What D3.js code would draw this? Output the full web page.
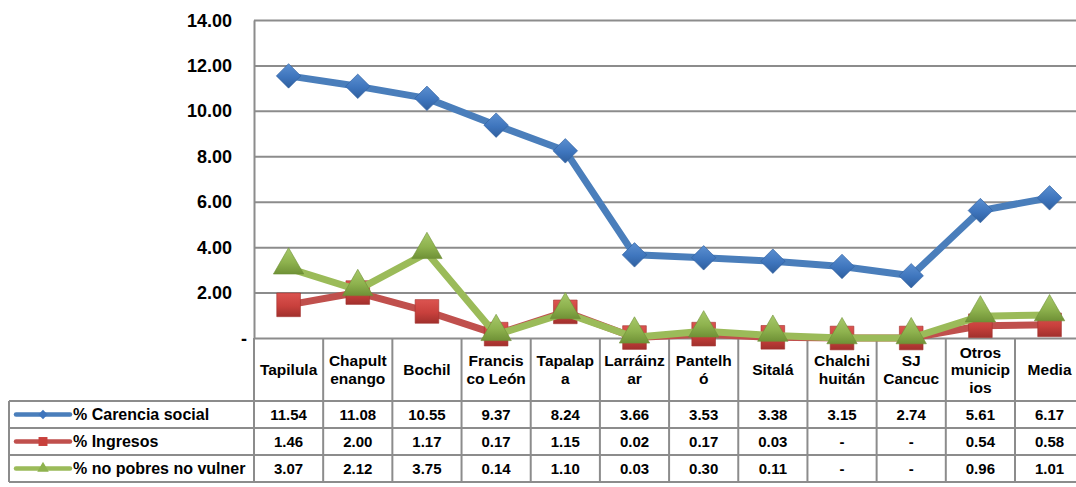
<!DOCTYPE html>
<html>
<head>
<meta charset="utf-8">
<script src="https://cdn.jsdelivr.net/npm/d3@7"></script>
<style>
  html, body { margin: 0; padding: 0; background: #fff; }
  svg { display: block; font-family: "Liberation Sans", Arial, sans-serif; font-weight: bold; }
</style>
</head>
<body>
<svg id="chart" width="1076" height="487"></svg>
<script>
// ---- data ----
const categories = ["Tapilula", "Chapult\nenango", "Bochil", "Francis\nco León", "Tapalap\na", "Larráinz\nar",
                    "Pantelh\nó", "Sitalá", "Chalchi\nhuitán", "SJ\nCancuc", "Otros\nmunicip\nios", "Media"];
const seriesNames = ["% Carencia social", "% Ingresos", "% no pobres no vulner"];
const carenciaSocial = [11.54, 11.08, 10.55, 9.37, 8.24, 3.66, 3.53, 3.38, 3.15, 2.74, 5.61, 6.17];
const ingresos       = [1.46, 2.00, 1.17, 0.17, 1.15, 0.02, 0.17, 0.03, 0, 0, 0.54, 0.58];
const noPobres       = [3.07, 2.12, 3.75, 0.14, 1.10, 0.03, 0.30, 0.11, 0, 0, 0.96, 1.01];
const yTicks = [0, 2, 4, 6, 8, 10, 12, 14];

const seriesValues = [carenciaSocial, ingresos, noPobres];
const colors = [
  { line: "#4a7ebb", fill: "#3e75bd", dark: "#2f5f9e", light: "#5b8fd0" },
  { line: "#c0504d", fill: "#c8403c", dark: "#a1302d", light: "#dc5450" },
  { line: "#9bbb59", fill: "#8eb24e", dark: "#6f9136", light: "#a7c96a" }
];
const markers = [d3.symbolSquare, d3.symbolSquare, d3.symbolTriangle];
const markerSizes = [300, 560, 400];
const markerRot = [45, 0, 0];

// ---- layout ----
const plotLeft = 254, plotTop = 20, plotBottom = 338;
const colW = 69.18;
const plotRight = plotLeft + colW * categories.length;
const tableLeft = 9, tableTop = 401, rowH = 27, tableBottom = tableTop + rowH * 3;

const svg = d3.select("#chart");
const defs = svg.append("defs");
colors.forEach((c, i) => {
  const g = defs.append("linearGradient").attr("id", "grad" + i)
    .attr("x1", 0).attr("y1", 0).attr("x2", i === 0 ? 1 : 0).attr("y2", 1);
  g.append("stop").attr("offset", "0%").attr("stop-color", c.light);
  g.append("stop").attr("offset", "55%").attr("stop-color", c.fill);
  g.append("stop").attr("offset", "100%").attr("stop-color", c.dark);
});

const x = d3.scaleBand().domain(categories).range([plotLeft, plotRight]).padding(0);
const y = d3.scaleLinear().domain([0, 14]).range([plotBottom, plotTop]);

// gridlines
const grid = svg.append("g").attr("transform", `translate(${plotLeft},0)`)
  .call(d3.axisLeft(y).tickValues(yTicks).tickSize(-(plotRight - plotLeft)).tickFormat(""));
grid.select(".domain").remove();
grid.selectAll(".tick line").attr("stroke", "#8c8c8c").attr("stroke-width", 2);

// y axis line and labels
const yAxis = svg.append("g").attr("transform", `translate(${plotLeft},0)`)
  .call(d3.axisLeft(y).tickValues(yTicks).tickSize(0).tickPadding(22)
    .tickFormat(d => d === 0 ? "-" : d.toFixed(2)));
yAxis.select(".domain").attr("stroke", "#8c8c8c").attr("stroke-width", 2);
yAxis.selectAll(".tick text").attr("font-size", 18).attr("font-weight", "bold")
  .attr("font-family", "Liberation Sans, Arial, sans-serif").attr("fill", "#000")
  .attr("dy", "0.34em")
  .attr("dx", d => d === 0 ? 15 : 0);

// table structure
const tbl = svg.append("g").attr("stroke", "#8c8c8c").attr("stroke-width", 2).attr("fill", "none");
categories.forEach(c => {
  const xx = x(c);
  tbl.append("line").attr("x1", xx).attr("x2", xx).attr("y1", plotBottom).attr("y2", tableBottom);
});
tbl.append("line").attr("x1", plotRight).attr("x2", plotRight).attr("y1", plotTop).attr("y2", tableBottom);
for (let r = 0; r <= 3; r++) {
  tbl.append("line").attr("x1", tableLeft).attr("x2", plotRight)
    .attr("y1", tableTop + r * rowH).attr("y2", tableTop + r * rowH);
}
tbl.append("line").attr("x1", tableLeft).attr("x2", tableLeft).attr("y1", tableTop).attr("y2", tableBottom);

// category labels
const lh = 17.5;
categories.forEach(c => {
  const lines = c.split("\n");
  const cx = x(c) + x.bandwidth() / 2;
  const mid = (plotBottom + tableTop) / 2;
  const t = svg.append("text").attr("text-anchor", "middle").attr("font-size", 15.5).attr("fill", "#000");
  lines.forEach((ln, k) => {
    t.append("tspan").attr("x", cx).attr("y", mid + (k - (lines.length - 1) / 2) * lh + 5.5).text(ln);
  });
});

// table values + legend keys
seriesValues.forEach((vals, si) => {
  const base = tableTop + si * rowH + rowH / 2 + 5.5;
  svg.append("g").selectAll("text").data(vals).join("text")
    .attr("x", (d, i) => x(categories[i]) + x.bandwidth() / 2)
    .attr("y", base)
    .attr("text-anchor", "middle").attr("font-size", 15).attr("fill", "#000")
    .text(d => d === 0 ? "-" : d.toFixed(2));
  const ly = tableTop + si * rowH + rowH / 2;
  svg.append("line").attr("x1", 16).attr("x2", 70).attr("y1", ly).attr("y2", ly)
    .attr("stroke", colors[si].line).attr("stroke-width", 4.5).attr("stroke-linecap", "round");
  svg.append("path").attr("d", d3.symbol().type(markers[si]).size(markerSizes[si] / 7)())
    .attr("transform", `translate(43,${ly}) rotate(${markerRot[si]})`)
    .attr("fill", colors[si].fill);
  svg.append("text").attr("x", 73).attr("y", base).attr("font-size", 16).attr("fill", "#000")
    .text(seriesNames[si]);
});

// series lines and markers
const lineGen = d3.line().x((d, i) => x(categories[i]) + x.bandwidth() / 2).y(d => y(d));
seriesValues.forEach((vals, si) => {
  const g = svg.append("g");
  g.append("path").datum(vals).attr("d", lineGen)
    .attr("fill", "none").attr("stroke", colors[si].line)
    .attr("stroke-width", 7).attr("stroke-linejoin", "round");
  g.selectAll("path.mk").data(vals).join("path").attr("class", "mk")
    .attr("d", d3.symbol().type(markers[si]).size(markerSizes[si])())
    .attr("transform", (d, i) => `translate(${x(categories[i]) + x.bandwidth() / 2},${y(d) + (si === 2 ? -3 : 0)}) rotate(${markerRot[si]})`)
    .attr("fill", `url(#grad${si})`)
    .attr("stroke", colors[si].dark).attr("stroke-width", 0.6);
});
</script>
</body>
</html>
